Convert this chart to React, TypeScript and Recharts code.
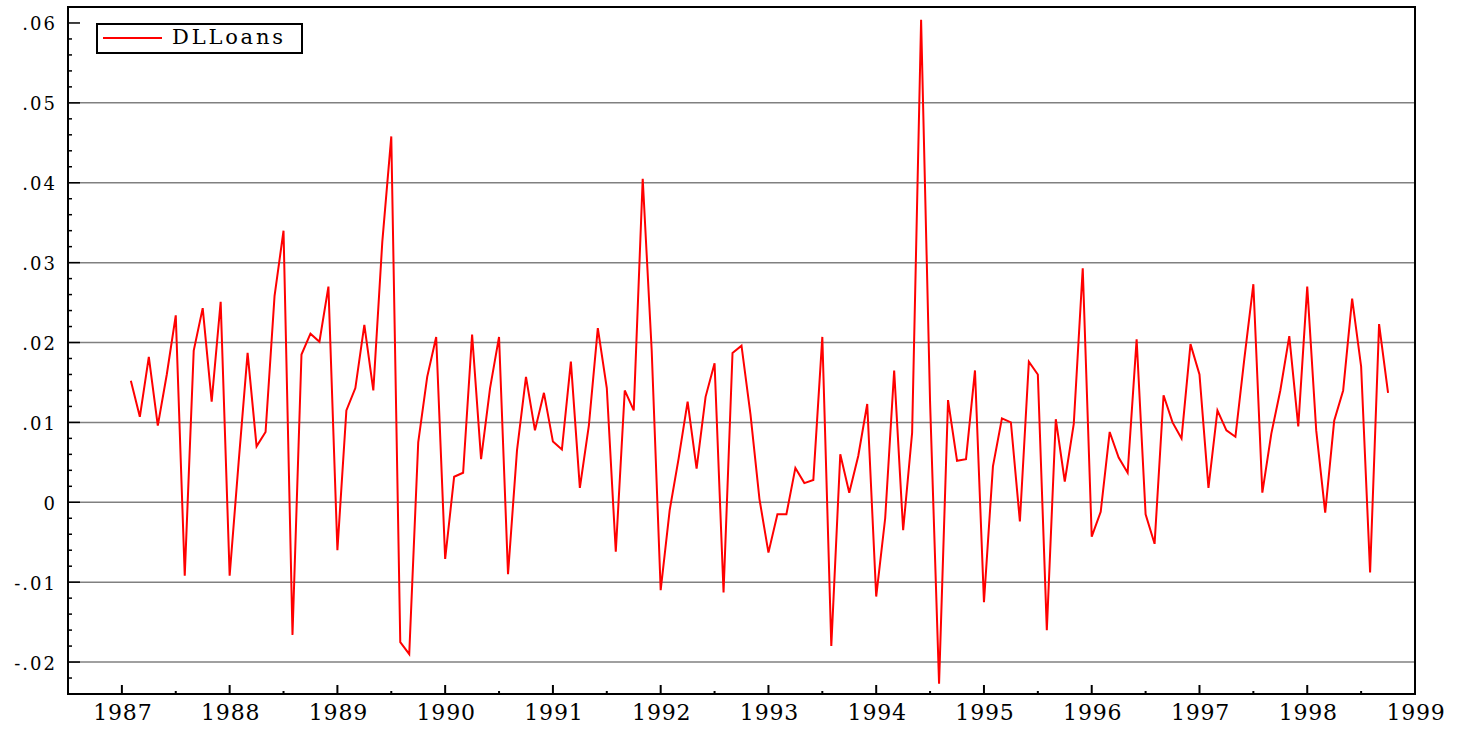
import React from 'react';
import { LineChart, Line, XAxis, YAxis, CartesianGrid, ReferenceArea } from 'recharts';

const seriesName = 'DLLoans';
const startYear = 1987;
const startMonth = 2;

const v1987 = [0.0152, 0.0107, 0.0182, 0.0096, 0.016, 0.0234, -0.0092, 0.019, 0.0243, 0.0126, 0.0251];
const v1988 = [-0.0092, 0.005, 0.0187, 0.007, 0.0088, 0.0258, 0.034, -0.0166, 0.0185, 0.0211, 0.0201, 0.027];
const v1989 = [-0.006, 0.0115, 0.0143, 0.0222, 0.014, 0.0326, 0.0458, -0.0175, -0.019, 0.0075, 0.0157, 0.0207];
const v1990 = [-0.0071, 0.0032, 0.0037, 0.021, 0.0054, 0.0143, 0.0207, -0.009, 0.0065, 0.0157, 0.009, 0.0137];
const v1991 = [0.0076, 0.0066, 0.0176, 0.0018, 0.0096, 0.0218, 0.0143, -0.0062, 0.014, 0.0115, 0.0405, 0.019];
const v1992 = [-0.011, -0.001, 0.0055, 0.0126, 0.0042, 0.0132, 0.0174, -0.0113, 0.0187, 0.0196, 0.011, 0.0004];
const v1993 = [-0.0063, -0.0015, -0.0015, 0.0043, 0.0024, 0.0028, 0.0207, -0.018, 0.006, 0.0012, 0.0058, 0.0123];
const v1994 = [-0.0118, -0.002, 0.0165, -0.0035, 0.0087, 0.0604, 0.0125, -0.0227, 0.0128, 0.0052, 0.0054, 0.0165];
const v1995 = [-0.0125, 0.0045, 0.0105, 0.01, -0.0024, 0.0176, 0.016, -0.016, 0.0104, 0.0026, 0.0098, 0.0293];
const v1996 = [-0.0043, -0.0012, 0.0088, 0.0056, 0.0037, 0.0204, -0.0015, -0.0052, 0.0134, 0.01, 0.008, 0.0198];
const v1997 = [0.016, 0.0018, 0.0115, 0.009, 0.0082, 0.018, 0.0273, 0.0012, 0.0086, 0.014, 0.0208, 0.0095];
const v1998 = [0.027, 0.009, -0.0013, 0.0102, 0.014, 0.0255, 0.017, -0.0088, 0.0223, 0.0137];

const dlLoans = [
  ...v1987, ...v1988, ...v1989, ...v1990, ...v1991, ...v1992,
  ...v1993, ...v1994, ...v1995, ...v1996, ...v1997, ...v1998,
];

const yearTicks = [1987, 1988, 1989, 1990, 1991, 1992, 1993, 1994, 1995, 1996, 1997, 1998, 1999];
const halfYearTicks = [1987.5, 1988.5, 1989.5, 1990.5, 1991.5, 1992.5, 1993.5, 1994.5, 1995.5, 1996.5, 1997.5, 1998.5];
const yLabelValues = [-0.02, -0.01, 0, 0.01, 0.02, 0.03, 0.04, 0.05, 0.06];
const gridValues = [-0.02, -0.01, 0, 0.01, 0.02, 0.03, 0.04, 0.05];
const xDomain = [1986.5, 1999];
const yDomain = [-0.024, 0.062];

const data = dlLoans.map((v, i) => ({ t: startYear + (startMonth - 1 + i) / 12, v }));
const xTicks = [...yearTicks, ...halfYearTicks].sort((a, b) => a - b);
const yTicks: number[] = [];
for (let i = -12; i <= 31; i++) yTicks.push(Math.round(i * 2) / 1000);

const FONT = '"DejaVu Serif", serif';

const fmtY = (v: number) => {
  const c = Math.round(v * 100);
  if (c === 0) return '0';
  const s = '.0' + Math.abs(c);
  return c < 0 ? '-' + s : s;
};

const XTick = (props: any) => {
  const { x, y, payload } = props;
  const v = payload.value;
  const major = Math.abs(v - Math.round(v)) < 1e-6;
  return (
    <g>
      <line x1={x} x2={x} y1={y} y2={y - (major ? 9 : 3)} stroke="#000" strokeWidth={2} />
      {major && (
        <text x={x + 1} y={y + 26} textAnchor="middle" fontFamily={FONT} fontSize={22} letterSpacing={0.8} fill="#000">
          {String(v)}
        </text>
      )}
    </g>
  );
};

const YTick = (props: any) => {
  const { x, y, payload } = props;
  const v = payload.value;
  const major = yLabelValues.some((m) => Math.abs(m - v) < 1e-9);
  return (
    <g>
      <line x1={x} x2={x + (major ? 12 : 4)} y1={y} y2={y} stroke="#000" strokeWidth={1.5} />
      {major && (
        <text x={x - 11} y={y + 7.5} textAnchor="end" fontFamily={FONT} fontSize={18} letterSpacing={2} fill="#000">
          {fmtY(v)}
        </text>
      )}
    </g>
  );
};

export default function App() {
  return (
    <div style={{ position: 'absolute', left: 0, top: 0, width: 1467, height: 731, background: '#fff' }}>
      <LineChart width={1467} height={731} data={data} margin={{ top: 7, right: 52, bottom: 0, left: 0 }}>
        <CartesianGrid horizontalValues={gridValues} vertical={false} stroke="#808080" strokeWidth={1.5} />
        <XAxis
          dataKey="t"
          type="number"
          domain={xDomain}
          allowDataOverflow
          ticks={xTicks}
          interval={0}
          height={37}
          tickSize={0}
          tickMargin={0}
          tickLine={false}
          axisLine={{ stroke: '#000', strokeWidth: 2 }}
          tick={<XTick />}
        />
        <YAxis
          type="number"
          domain={yDomain}
          allowDataOverflow
          ticks={yTicks}
          interval={0}
          width={68}
          tickSize={0}
          tickMargin={0}
          tickLine={false}
          axisLine={{ stroke: '#000', strokeWidth: 2 }}
          tick={<YTick />}
        />
        <Line
          type="linear"
          dataKey="v"
          name={seriesName}
          stroke="#ff0000"
          strokeWidth={2}
          dot={false}
          isAnimationActive={false}
        />
        <ReferenceArea
          x1={xDomain[0]}
          x2={xDomain[1]}
          y1={yDomain[0]}
          y2={yDomain[1]}
          fill="none"
          fillOpacity={0}
          stroke="#000"
          strokeWidth={2}
          ifOverflow="visible"
        />
      </LineChart>
      <div
        style={{
          position: 'absolute',
          left: 96,
          top: 23,
          width: 207,
          height: 31,
          boxSizing: 'border-box',
          border: '2px solid #000',
          background: '#fff',
        }}
      >
        <svg width={203} height={27} style={{ position: 'absolute', left: 0, top: 0 }}>
          <line x1={5} x2={64} y1={13} y2={13} stroke="#ff0000" strokeWidth={2} />
          <text x={74} y={18.5} fontFamily={FONT} fontSize={21} letterSpacing={2.8} fill="#000">
            {seriesName}
          </text>
        </svg>
      </div>
    </div>
  );
}
